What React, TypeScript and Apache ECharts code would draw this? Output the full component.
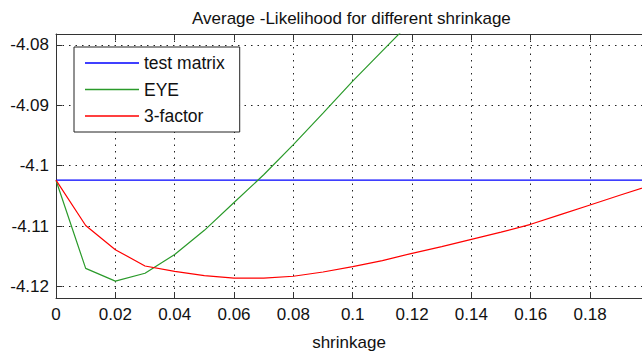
import React, { useEffect, useRef } from "react";
import * as echarts from "echarts";

// Shrinkage intensities (x) sampled every 0.01
const shrinkage = [
  0, 0.01, 0.02, 0.03, 0.04, 0.05, 0.06, 0.07, 0.08, 0.09, 0.1, 0.11, 0.12,
  0.13, 0.14, 0.15, 0.16, 0.17, 0.18, 0.19, 0.2,
];

// Average negative log-likelihood for each target
const testMatrix = [
  -4.1024, -4.1024, -4.1024, -4.1024, -4.1024, -4.1024, -4.1024, -4.1024,
  -4.1024, -4.1024, -4.1024, -4.1024, -4.1024, -4.1024, -4.1024, -4.1024,
  -4.1024, -4.1024, -4.1024, -4.1024, -4.1024,
];
const eye = [
  -4.1024, -4.117, -4.1191, -4.1178, -4.1147, -4.1107, -4.1061, -4.1015,
  -4.0965, -4.0913, -4.086, -4.081, -4.076,
];
const threeFactor = [
  -4.1024, -4.1099, -4.1139, -4.1166, -4.1175, -4.1182, -4.1186, -4.1186,
  -4.1183, -4.1176, -4.1167, -4.1157, -4.1145, -4.1134, -4.1122, -4.111,
  -4.1097, -4.1081, -4.1065, -4.1049, -4.1033,
];

const xTicks = [0, 0.02, 0.04, 0.06, 0.08, 0.1, 0.12, 0.14, 0.16, 0.18];
const yTicks = [-4.12, -4.11, -4.1, -4.09, -4.08];

const FONT = "'Liberation Sans', Arial, sans-serif";
const AXIS_COLOR = "#333";

const pairs = (ys: number[]) => ys.map((y, i) => [shrinkage[i], y]);

export default function App() {
  const ref = useRef<HTMLDivElement>(null);

  useEffect(() => {
    if (!ref.current) return;
    const chart = echarts.init(ref.current, undefined, { renderer: "svg" });
    const gridLine = {
      show: true,
      lineStyle: { color: "#222", width: 1, type: [1.5, 5] as number[] },
    };
    chart.setOption({
      animation: false,
      backgroundColor: "#fff",
      title: {
        text: "Average -Likelihood for different shrinkage",
        left: 187,
        top: 5,
        textStyle: {
          fontFamily: FONT,
          fontSize: 17,
          fontWeight: "normal",
          color: "#111",
        },
      },
      legend: {
        orient: "vertical",
        left: 74,
        top: 47,
        padding: [7, 15, 7, 11],
        icon: "rect",
        itemWidth: 54,
        itemHeight: 1.5,
        itemGap: 8.5,
        backgroundColor: "#fff",
        borderColor: "#222",
        borderWidth: 1,
        borderRadius: 0,
        textStyle: { fontFamily: FONT, fontSize: 17.5, color: "#111" },
        data: ["test matrix", "EYE", "3-factor"],
      },
      grid: { left: 56, top: 34, right: 0, bottom: 50 },
      xAxis: [
        {
          type: "value",
          min: 0,
          max: 0.1975,
          name: "shrinkage",
          nameLocation: "middle",
          nameGap: 36,
          nameTextStyle: { fontFamily: FONT, fontSize: 17, color: "#111" },
          axisLine: { show: true, lineStyle: { color: AXIS_COLOR, width: 1 } },
          axisTick: {
            show: true,
            inside: true,
            length: 6,
            customValues: xTicks,
            lineStyle: { color: AXIS_COLOR },
          },
          axisLabel: {
            customValues: xTicks,
            margin: 8,
            fontFamily: FONT,
            fontSize: 17,
            color: "#111",
            formatter: (v: number) => String(Number(v.toFixed(2))),
          },
          splitLine: gridLine,
        },
        {
          type: "value",
          position: "top",
          min: 0,
          max: 0.1975,
          axisLine: { show: true, lineStyle: { color: AXIS_COLOR, width: 1 } },
          axisTick: {
            show: true,
            inside: true,
            length: 6,
            customValues: xTicks,
            lineStyle: { color: AXIS_COLOR },
          },
          axisLabel: { show: false },
          splitLine: { show: false },
        },
      ],
      yAxis: {
        type: "value",
        min: -4.1219,
        max: -4.0782,
        axisLine: { show: true, lineStyle: { color: AXIS_COLOR, width: 1 } },
        axisTick: {
          show: true,
          inside: true,
          length: 6,
          customValues: yTicks,
          lineStyle: { color: AXIS_COLOR },
        },
        axisLabel: {
          customValues: yTicks,
          margin: 7,
          fontFamily: FONT,
          fontSize: 17,
          color: "#111",
          formatter: (v: number) => String(Number(v.toFixed(2))),
        },
        splitLine: gridLine,
      },
      series: [
        {
          name: "test matrix",
          type: "line",
          data: pairs(testMatrix),
          symbol: "none",
          color: "#0000ff",
          lineStyle: { width: 1.2, color: "#0000ff" },
        },
        {
          name: "EYE",
          type: "line",
          data: pairs(eye),
          symbol: "none",
          color: "#2a9a2a",
          lineStyle: { width: 1.2, color: "#2a9a2a" },
        },
        {
          name: "3-factor",
          type: "line",
          data: pairs(threeFactor),
          symbol: "none",
          color: "#ff0000",
          lineStyle: { width: 1.2, color: "#ff0000" },
        },
      ],
    });
    return () => chart.dispose();
  }, []);

  return (
    <div
      ref={ref}
      style={{ position: "fixed", left: 0, top: 0, width: 642, height: 356 }}
    />
  );
}
